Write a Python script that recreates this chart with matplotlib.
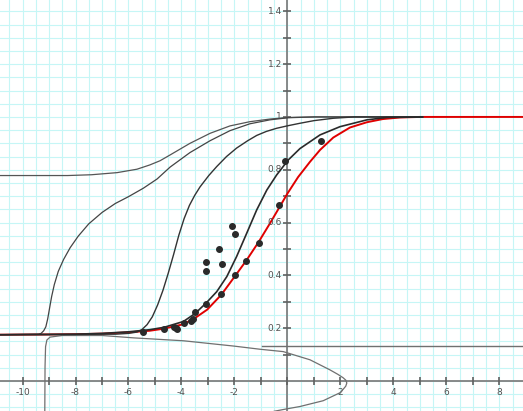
import numpy as np
import matplotlib
matplotlib.use("Agg")
import matplotlib.pyplot as plt

# data
red_x = [-10.9, -9, -8, -7, -6, -5.2, -4.66, -4.0, -3.58, -3.03, -2.5, -1.98, -1.54, -1.09,
         -0.66, -0.32, 0.0, 0.4, 0.85, 1.23, 1.73, 2.36, 3.0, 3.6, 4.25, 5.0, 9.0]
red_y = [0.175, 0.176, 0.177, 0.179, 0.184, 0.19, 0.198, 0.213, 0.232, 0.27, 0.326, 0.397, 0.458, 0.526,
         0.597, 0.655, 0.71, 0.772, 0.83, 0.875, 0.922, 0.96, 0.98, 0.992, 0.998, 1.0, 1.0]

b_x = [-10.9, -9, -8, -7, -6, -5.2, -4.66, -3.93, -3.49, -3.07, -2.67, -2.29, -1.92, -1.54,
       -1.16, -0.78, -0.41, 0.03, 0.47, 1.23, 1.98, 3.0, 3.75, 5.1]
b_y = [0.175, 0.176, 0.177, 0.18, 0.186, 0.194, 0.203, 0.225, 0.255, 0.295, 0.338, 0.395, 0.471, 0.559,
       0.648, 0.723, 0.78, 0.837, 0.88, 0.932, 0.963, 0.989, 0.998, 1.0]

c_x = [-10.9, -8, -7, -6.5, -6.0, -5.68, -5.5, -5.3, -5.1, -4.9, -4.7, -4.5, -4.3, -4.1, -3.9,
       -3.7, -3.5, -3.3, -2.97, -2.67, -2.3, -1.92, -1.5, -1.16, -0.8, -0.41, 0.03, 0.47, 1.0,
       1.73, 2.5, 5.1]
c_y = [0.175, 0.176, 0.177, 0.177, 0.18, 0.185, 0.194, 0.213, 0.243, 0.288, 0.343, 0.408, 0.478, 0.552, 0.615,
       0.665, 0.703, 0.735, 0.778, 0.812, 0.85, 0.882, 0.91, 0.93, 0.945, 0.957, 0.967, 0.976, 0.986,
       0.995, 1.0, 1.0]

d_x = [-10.9, -9.4, -9.3, -9.2, -9.12, -9.05, -8.98, -8.9, -8.8, -8.65, -8.45, -8.2, -7.9, -7.5,
       -7.0, -6.5, -6.0, -5.44, -4.92, -4.43, -3.68, -2.92, -2.17, -1.42, -0.66, 0.03, 1.0, 5.1]
d_y = [0.175, 0.177, 0.18, 0.19, 0.205, 0.235, 0.275, 0.32, 0.365, 0.415, 0.46, 0.505, 0.548, 0.595,
       0.638, 0.672, 0.698, 0.73, 0.765, 0.81, 0.865, 0.91, 0.948, 0.974, 0.989, 0.997, 1.0, 1.0]

e_x = [-10.9, -8.3, -7.4, -6.43, -5.68, -5.2, -4.81, -4.43, -3.68, -2.92, -2.17, -1.42, -0.66,
       0.03, 1.0, 5.1]
e_y = [0.778, 0.778, 0.781, 0.789, 0.802, 0.818, 0.834, 0.856, 0.9, 0.938, 0.966, 0.982, 0.992,
       0.998, 1.0, 1.0]

f_x = [-9.16, -9.15, -9.13, -9.08, -8.96, -8.5, -7.0, -5.8, -3.92, -2.03, -1.04, -0.16, 0.85,
       1.6, 1.9, 2.1, 2.2, 2.24, 2.2, 2.1, 1.98, 1.35, 0.47, -0.03, -0.5]
f_y = [-0.13, 0.054, 0.13, 0.155, 0.166, 0.172, 0.172, 0.163, 0.152, 0.132, 0.12, 0.111, 0.08,
       0.042, 0.025, 0.012, 0.003, -0.008, -0.02, -0.032, -0.045, -0.075, -0.097, -0.106, -0.115]

g_x = [-0.95, 9.0]
g_y = [0.134, 0.134]

pts_x = [-5.46, -4.66, -4.3, -4.21, -4.18, -3.9, -3.65, -3.58, -3.49, -3.07, -3.07, -3.07,
         -2.57, -2.5, -2.48, -2.08, -1.98, -1.98, -1.57, -1.09, -0.32, -0.08, 1.26]
pts_y = [0.186, 0.197, 0.205, 0.2, 0.196, 0.219, 0.226, 0.234, 0.26, 0.29, 0.415, 0.45,
         0.50, 0.328, 0.443, 0.588, 0.557, 0.40, 0.456, 0.524, 0.665, 0.834, 0.909]

x_labels = [-10, -8, -6, -4, -2, 2, 4, 6, 8]
y_labels = [0.2, 0.4, 0.6, 0.8, 1.0, 1.2, 1.4]

fig = plt.figure(figsize=(5.23, 4.11), dpi=100)
ax = fig.add_axes([0, 0, 1, 1])
ax.set_xlim(-10.85, 8.89)
ax.set_ylim(-0.114, 1.443)
ax.axis("off")

# graph paper
grid_c = "#c6f6f6"
for gx in np.arange(-11, 9.01, 0.5):
    ax.axvline(gx, color=grid_c, lw=0.8, zorder=0)
for gy in np.arange(-0.15, 1.5, 0.05):
    ax.axhline(gy, color=grid_c, lw=0.8, zorder=0)

# axes through the origin
ax_c = "#808080"
ax.axhline(0, color=ax_c, lw=1.3, zorder=1)
ax.axvline(0, color=ax_c, lw=1.3, zorder=1)
ax.plot(np.arange(-10, 9), np.zeros(19), ls="none", marker="|", ms=6, mew=1.2, color="#606060", zorder=1)
yt = np.arange(0.1, 1.45, 0.1)
ax.plot(np.zeros(len(yt)), yt, ls="none", marker="_", ms=6, mew=1.2, color="#606060", zorder=1)

for v in x_labels:
    ax.annotate(str(v), (v, 0), xytext=(0, -5), textcoords="offset points",
                ha="center", va="top", fontsize=6.5, color="#505050")
for v in y_labels:
    ax.annotate("1" if v == 1.0 else "%g" % v, (0, v), xytext=(-4, 0), textcoords="offset points",
                ha="right", va="center", fontsize=6.5, color="#505050")

# curves
ax.plot(red_x, red_y, color="#e00000", lw=1.4, zorder=2)
ax.plot(f_x, f_y, color="#707070", lw=0.9, zorder=3)
ax.plot(g_x, g_y, color="#707070", lw=1.0, zorder=3)
ax.plot(e_x, e_y, color="#555555", lw=0.9, zorder=3)
ax.plot(d_x, d_y, color="#444444", lw=0.9, zorder=3)
ax.plot(c_x, c_y, color="#333333", lw=1.0, zorder=3)
ax.plot(b_x, b_y, color="#2a2a2a", lw=1.2, zorder=3)

ax.plot(pts_x, pts_y, ls="none", marker="o", ms=4, color="#2a2a2a", zorder=4)

fig.savefig("out.png", dpi=100)
